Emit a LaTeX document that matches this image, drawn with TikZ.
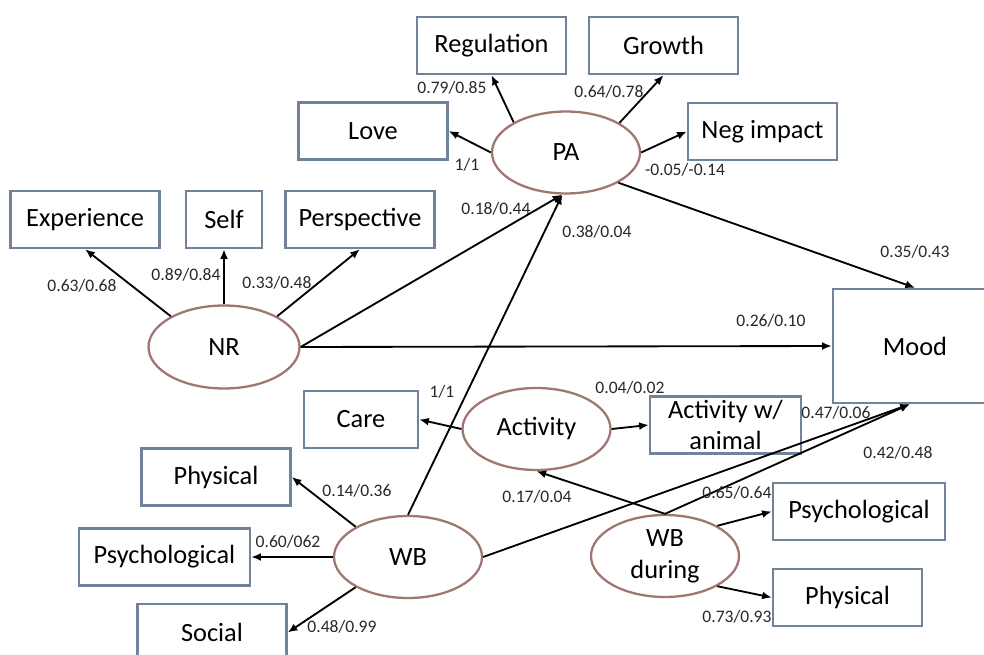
\documentclass[tikz,border=0pt]{standalone}
\usepackage{fontspec}
\setmainfont{Carlito}
\usetikzlibrary{shapes.geometric, positioning, arrows.meta}

\definecolor{boxline}{RGB}{114,130,154}
\definecolor{latentline}{RGB}{160,118,112}
\definecolor{labeltext}{RGB}{40,40,40}

\begin{document}
\begin{tikzpicture}[x=0.02cm, y=-0.02cm,
    indicator/.style={rectangle, draw=boxline, line width=1.4pt, minimum width=2.98cm, minimum height=1.14cm, inner sep=2pt, align=center, font=\fontsize{15}{18}\selectfont},
    latent/.style={ellipse, draw=latentline, line width=1.3pt, minimum width=2.96cm, minimum height=1.64cm, inner sep=0pt, align=center, font=\fontsize{15}{18}\selectfont},
    coef/.style={font=\fontsize{10}{12}\selectfont, text=labeltext, inner sep=1pt},
    link/.style={draw, black, line width=1.05pt, -{Latex[length=5.5pt,width=4.5pt]}}]

    \useasboundingbox (0,0) rectangle (984,655);

    % --- Latent variables ---
    \node[latent] (pa) at (566,152.5) {PA};
    \node[latent, minimum width=3.02cm, minimum height=1.66cm] (nr) at (224,347) {NR};
    \node[latent] (activity) at (536.5,429) {Activity};
    \node[latent] (wb) at (408,557) {WB};
    \node[latent] (wbd) at (665,556) {WB\\during};

    % --- PA indicators ---
    \node[indicator] (love) at (373,131) {Love};
    \node[indicator] (regulation) at (491.5,45.5) {Regulation};
    \node[indicator] (growth) at (663.5,45.5) {Growth};
    \node[indicator] (negimpact) at (762.5,131.5) {Neg impact};
    \draw[link] (pa.west) -- (love.east);
    \draw[link] (pa.150) -- (regulation.south);
    \draw[link] (pa.29) -- (growth.south);
    \draw[link] (pa.east) -- (negimpact.west);

    % --- NR indicators ---
    \node[indicator, minimum width=1.52cm] (self) at (224,219.5) {Self};
    \node[indicator] (experience) [left=0.48cm of self] {Experience};
    \node[indicator] (perspective) [right=0.42cm of self] {Perspective};
    \draw[link] (nr.150) -- (experience.south);
    \draw[link] (nr.north) -- (self.south);
    \draw[link] (nr.30) -- (perspective.south);

    % --- Outcome ---
    \node[indicator, minimum width=3.28cm, minimum height=2.28cm] (mood) at (915,346) {Mood};

    % --- Activity indicators ---
    \node[indicator, minimum width=2.28cm] (care) at (361,419.5) {Care};
    \node[indicator, minimum width=3.02cm, minimum height=1.12cm] (actanimal) at (725.5,425) {Activity w/\\animal};
    \draw[link] (activity.west) -- (care.east);
    \draw[link] (activity.east) -- (actanimal.west);

    % --- WB indicators ---
    \node[indicator] (wb_phys) at (216,477) {Physical};
    \node[indicator, minimum width=3.42cm] (wb_psych) at (164.5,557) {Psychological};
    \node[indicator] (wb_social) at (212,632.5) {Social};
    \draw[link] (wb.150) -- (wb_phys.east);
    \draw[link] (wb.west) -- (wb_psych.east);
    \draw[link] (wb.210) -- (wb_social.east);

    % --- WB during indicators ---
    \node[indicator, minimum width=3.44cm] (wbd_psych) at (859,511.5) {Psychological};
    \node[indicator] (wbd_phys) at (847.5,597.5) {Physical};
    \draw[link] (wbd.30) -- (wbd_psych.west);
    \draw[link] (wbd.330) -- (wbd_phys.west);

    % --- Structural paths ---
    \draw[link] (nr.east) -- (pa.265);
    \draw[link] (wb.north) -- (pa.265);
    \draw[link] (pa.330) -- (mood.north);
    \draw[link] (nr.east) -- (mood.west);
    \draw[link] (wb.east) -- (mood.265);
    \draw[link] (wbd.north) -- (mood.265);
    \draw[link] (wbd.north) -- (activity.south);

    % --- Coefficients ---
    \node[coef] (c_love) at (467,165) {1/1};
    \node[coef] (c_reg) at (452,88) {0.79/0.85};
    \node[coef] (c_growth) at (609,92) {0.64/0.78};
    \node[coef] (c_neg) at (685,170) {-0.05/-0.14};
    \node[coef] (c_nrpa) at (496,209) {0.18/0.44};
    \node[coef] (c_wbpa) at (597,232) {0.38/0.04};
    \node[coef] (c_pamood) at (915,252) {0.35/0.43};
    \node[coef] (c_nrmood) at (771,321) {0.26/0.10};
    \node[coef] (c_exp) at (82,286) {0.63/0.68};
    \node[coef] (c_self) at (186,275) {0.89/0.84};
    \node[coef] (c_persp) at (277,283) {0.33/0.48};
    \node[coef] (c_care) at (442,392) {1/1};
    \node[coef] (c_act) at (630,388) {0.04/0.02};
    \node[coef] (c_wbmood) at (836,413) {0.47/0.06};
    \node[coef] (c_wbdmood) at (898,453) {0.42/0.48};
    \node[coef] (c_wbdact) at (537,497) {0.17/0.04};
    \node[coef] (c_wbdpsych) at (737,493) {0.65/0.64};
    \node[coef] (c_wbdphys) at (737,617) {0.73/0.93};
    \node[coef] (c_phys) at (357,491) {0.14/0.36};
    \node[coef] (c_psych) at (288,542) {0.60/062};
    \node[coef] (c_social) at (342,627) {0.48/0.99};

\end{tikzpicture}
\end{document}
